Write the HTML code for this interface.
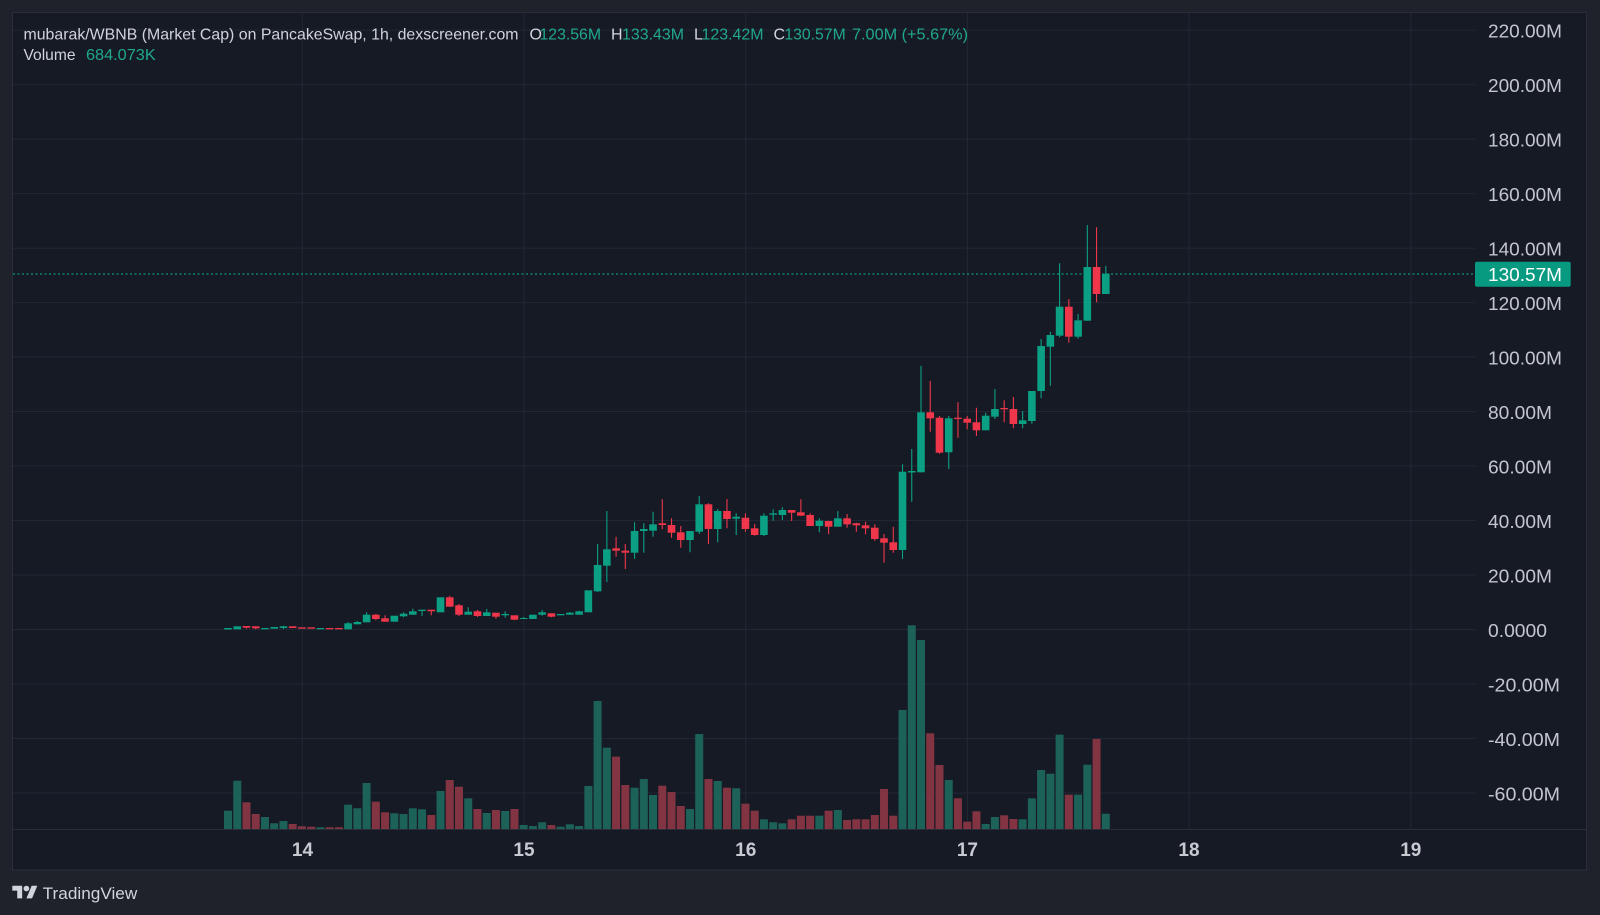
<!DOCTYPE html>
<html><head><meta charset="utf-8">
<style>
html,body{margin:0;padding:0;background:#1f222b;}
svg{display:block;}
text{font-family:"Liberation Sans",sans-serif;}
</style></head>
<body>
<svg width="1600" height="915" viewBox="0 0 1600 915" xmlns="http://www.w3.org/2000/svg">
<rect x="0" y="0" width="1600" height="915" fill="#1f222b"/>
<rect x="12.5" y="12.5" width="1574" height="857.5" fill="#161a24" stroke="#2a2e39" stroke-width="1"/>
<!-- grid -->
<g stroke="#232733" stroke-width="1">
<path d="M13 30.1H1475M13 84.6H1475M13 139.1H1475M13 193.6H1475M13 248.1H1475M13 302.6H1475M13 357.05H1475M13 411.55H1475M13 466.05H1475M13 520.5H1475M13 575H1475M13 629.5H1475M13 684H1475M13 738.5H1475M13 793H1475"/>
<path d="M302.3 13V829M524 13V829M745.7 13V829M967.4 13V829M1189 13V829M1410.8 13V829"/>
</g>
<line x1="12.5" y1="829.5" x2="1587" y2="829.5" stroke="#2a2e39" stroke-width="1"/>
<!-- price line -->
<line x1="13" y1="274" x2="1475" y2="274" stroke="#089981" stroke-width="1.3" stroke-dasharray="2,2.5"/>
<!-- volume green -->
<g fill="#1d6259">
<rect x="224" y="810.7" width="8" height="18.3"/><rect x="233.24" y="780.7" width="8" height="48.3"/><rect x="260.96" y="817" width="8" height="12"/><rect x="270.2" y="823.3" width="8" height="5.7"/><rect x="279.44" y="821" width="8" height="8"/><rect x="316.4" y="827.3" width="8" height="1.7"/><rect x="344.12" y="804.7" width="8" height="24.3"/><rect x="353.36" y="808.3" width="8" height="20.7"/><rect x="362.6" y="783" width="8" height="46"/><rect x="390.32" y="813.3" width="8" height="15.7"/><rect x="399.56" y="814" width="8" height="15"/><rect x="408.8" y="808.3" width="8" height="20.7"/><rect x="418.04" y="809.3" width="8" height="19.7"/><rect x="436.52" y="791" width="8" height="38"/><rect x="464.24" y="798.3" width="8" height="30.7"/><rect x="482.72" y="813" width="8" height="16"/><rect x="501.2" y="811" width="8" height="18"/><rect x="519.68" y="825" width="8" height="4"/><rect x="528.92" y="826" width="8" height="3"/><rect x="538.16" y="822.3" width="8" height="6.7"/><rect x="556.64" y="826.7" width="8" height="2.3"/><rect x="565.88" y="824.3" width="8" height="4.7"/><rect x="575.12" y="826" width="8" height="3"/><rect x="584.36" y="786" width="8" height="43"/><rect x="593.6" y="701" width="8" height="128"/><rect x="602.84" y="747.7" width="8" height="81.3"/><rect x="630.56" y="787.7" width="8" height="41.3"/><rect x="639.8" y="779" width="8" height="50"/><rect x="649.04" y="795" width="8" height="34"/><rect x="686" y="809" width="8" height="20"/><rect x="695.24" y="734" width="8" height="95"/><rect x="713.72" y="781" width="8" height="48"/><rect x="732.2" y="788.3" width="8" height="40.7"/><rect x="759.92" y="819.3" width="8" height="9.7"/><rect x="769.16" y="822.3" width="8" height="6.7"/><rect x="778.4" y="823.3" width="8" height="5.7"/><rect x="815.36" y="815.7" width="8" height="13.3"/><rect x="833.84" y="810" width="8" height="19"/><rect x="898.52" y="710" width="8" height="119"/><rect x="907.76" y="625.3" width="8" height="203.7"/><rect x="917" y="640" width="8" height="189"/><rect x="944.72" y="780" width="8" height="49"/><rect x="981.68" y="824" width="8" height="5"/><rect x="990.92" y="817" width="8" height="12"/><rect x="1018.64" y="819.3" width="8" height="9.7"/><rect x="1027.88" y="798.3" width="8" height="30.7"/><rect x="1037.12" y="770" width="8" height="59"/><rect x="1046.36" y="773.7" width="8" height="55.3"/><rect x="1055.6" y="734.7" width="8" height="94.3"/><rect x="1074.08" y="794.7" width="8" height="34.3"/><rect x="1083.32" y="764.7" width="8" height="64.3"/><rect x="1101.8" y="813.7" width="8" height="15.3"/>
</g>
<!-- volume red -->
<g fill="#833442">
<rect x="242.48" y="802.3" width="8" height="26.7"/><rect x="251.72" y="814" width="8" height="15"/><rect x="288.68" y="824" width="8" height="5"/><rect x="297.92" y="826.3" width="8" height="2.7"/><rect x="307.16" y="826.7" width="8" height="2.3"/><rect x="325.64" y="827.3" width="8" height="1.7"/><rect x="334.88" y="827.3" width="8" height="1.7"/><rect x="371.84" y="801.7" width="8" height="27.3"/><rect x="381.08" y="812.3" width="8" height="16.7"/><rect x="427.28" y="815" width="8" height="14"/><rect x="445.76" y="780" width="8" height="49"/><rect x="455" y="786.7" width="8" height="42.3"/><rect x="473.48" y="809" width="8" height="20"/><rect x="491.96" y="810" width="8" height="19"/><rect x="510.44" y="809" width="8" height="20"/><rect x="547.4" y="825" width="8" height="4"/><rect x="612.08" y="756.7" width="8" height="72.3"/><rect x="621.32" y="785" width="8" height="44"/><rect x="658.28" y="785.7" width="8" height="43.3"/><rect x="667.52" y="792" width="8" height="37"/><rect x="676.76" y="806" width="8" height="23"/><rect x="704.48" y="779" width="8" height="50"/><rect x="722.96" y="787.7" width="8" height="41.3"/><rect x="741.44" y="803.7" width="8" height="25.3"/><rect x="750.68" y="810.7" width="8" height="18.3"/><rect x="787.64" y="819.3" width="8" height="9.7"/><rect x="796.88" y="815.7" width="8" height="13.3"/><rect x="806.12" y="815.7" width="8" height="13.3"/><rect x="824.6" y="810.7" width="8" height="18.3"/><rect x="843.08" y="820" width="8" height="9"/><rect x="852.32" y="819.3" width="8" height="9.7"/><rect x="861.56" y="819.3" width="8" height="9.7"/><rect x="870.8" y="815" width="8" height="14"/><rect x="880.04" y="789" width="8" height="40"/><rect x="889.28" y="815.7" width="8" height="13.3"/><rect x="926.24" y="733.3" width="8" height="95.7"/><rect x="935.48" y="765" width="8" height="64"/><rect x="953.96" y="798.3" width="8" height="30.7"/><rect x="963.2" y="821.7" width="8" height="7.3"/><rect x="972.44" y="811.3" width="8" height="17.7"/><rect x="1000.16" y="815.3" width="8" height="13.7"/><rect x="1009.4" y="819" width="8" height="10"/><rect x="1064.84" y="794.7" width="8" height="34.3"/><rect x="1092.56" y="739" width="8" height="90"/>
</g>
<!-- green wicks -->
<path stroke="#0b9f84" stroke-width="1.1" fill="none" d="M283.44 625.7V629M348.12 622V629.3M357.36 621V624.3M366.6 612.3V622.3M403.56 612.3V617.3M412.8 608.7V614.7M422.04 609.7V616M468.24 607.3V614.7M486.72 609V616M505.2 611.3V617.7M523.68 617V619M542.16 610V615.7M569.88 612V614.7M579.12 610.7V614.7M597.6 544V592M606.84 511V582M634.56 522.3V559M643.8 523.3V552.7M653.04 511.7V536.7M690 531V552.3M699.24 496V534M717.72 509V542.3M736.2 513.3V535M763.92 513.3V536M773.16 509.3V520.7M782.4 507.3V520M819.36 518.3V532.3M837.84 511V526.7M902.52 464.3V559M911.76 449V501.7M921 365.7V472.3M948.72 416V469M985.68 412.7V430.3M994.92 389V419M1022.64 411V428.3M1031.88 391V423.7M1041.12 339V398.3M1050.36 331.7V385.7M1059.6 263.3V337.3M1078.08 314V338.7M1087.32 225V320.7M1105.8 266V294"/>
<!-- red wicks -->
<path stroke="#f0364a" stroke-width="1.1" fill="none" d="M246.48 626V628.7M255.72 626.3V629.3M375.84 614V620.3M385.08 615.3V621.7M431.28 609.7V615.3M449.76 595.7V606.7M459 604V616M477.48 610V617M495.96 612.7V618.7M514.44 615.3V620.3M551.4 613.3V617.3M616.08 536.7V556.7M625.32 544V569M662.28 499.3V529.3M671.52 518.3V537.7M680.76 526V547.7M708.48 503.3V544M726.96 499V528.3M745.44 513.3V531.7M754.68 524V535.7M791.64 510V521M800.88 499.3V515.7M810.12 513.3V526M828.6 521V534.3M847.08 514V527.7M856.32 522.7V531.7M865.56 521.7V534.3M874.8 524.3V541M884.04 534V562.7M893.28 526.7V552.7M930.24 381V431.7M939.48 416V453.7M957.96 402.3V437.7M967.2 416V429.3M976.44 407.7V436M1004.16 400.3V422.3M1013.4 397V428.3M1068.84 299V342.7M1096.56 227.3V302.3"/>
<!-- green bodies -->
<g fill="#0b9f84">
<rect x="224.2" y="628" width="7.6" height="1.5"/><rect x="233.44" y="626.3" width="7.6" height="3"/><rect x="261.16" y="628" width="7.6" height="1.3"/><rect x="270.4" y="627" width="7.6" height="1.7"/><rect x="279.64" y="626.3" width="7.6" height="1.7"/><rect x="316.6" y="628" width="7.6" height="1.3"/><rect x="344.32" y="623.3" width="7.6" height="6"/><rect x="353.56" y="622" width="7.6" height="2.3"/><rect x="362.8" y="614.7" width="7.6" height="7.6"/><rect x="390.52" y="615.7" width="7.6" height="6"/><rect x="399.76" y="613.7" width="7.6" height="2.6"/><rect x="409" y="611.3" width="7.6" height="3.4"/><rect x="418.24" y="609.7" width="7.6" height="1.3"/><rect x="436.72" y="597.3" width="7.6" height="15"/><rect x="464.44" y="611.7" width="7.6" height="3"/><rect x="482.92" y="612.3" width="7.6" height="3.7"/><rect x="501.4" y="614" width="7.6" height="1.3"/><rect x="519.88" y="618" width="7.6" height="1"/><rect x="529.12" y="614.7" width="7.6" height="4.3"/><rect x="538.36" y="612.3" width="7.6" height="2.4"/><rect x="556.84" y="614" width="7.6" height="1.3"/><rect x="566.08" y="612.7" width="7.6" height="2"/><rect x="575.32" y="611.3" width="7.6" height="3.4"/><rect x="584.56" y="590.3" width="7.6" height="22"/><rect x="593.8" y="565" width="7.6" height="26.3"/><rect x="603.04" y="549.3" width="7.6" height="16.4"/><rect x="630.76" y="531" width="7.6" height="21.7"/><rect x="640" y="529" width="7.6" height="2"/><rect x="649.24" y="524.3" width="7.6" height="6.4"/><rect x="686.2" y="531" width="7.6" height="9"/><rect x="695.44" y="504.3" width="7.6" height="27.4"/><rect x="713.92" y="511" width="7.6" height="18"/><rect x="732.4" y="516.7" width="7.6" height="2"/><rect x="760.12" y="515.7" width="7.6" height="19.3"/><rect x="769.36" y="513.3" width="7.6" height="1.4"/><rect x="778.6" y="510" width="7.6" height="5"/><rect x="815.56" y="520.7" width="7.6" height="5.3"/><rect x="834.04" y="518.3" width="7.6" height="8.4"/><rect x="898.72" y="471.7" width="7.6" height="78.3"/><rect x="907.96" y="471" width="7.6" height="1.5"/><rect x="917.2" y="412.3" width="7.6" height="60"/><rect x="944.92" y="418.3" width="7.6" height="34"/><rect x="981.88" y="415.7" width="7.6" height="14.6"/><rect x="991.12" y="409" width="7.6" height="7.7"/><rect x="1018.84" y="420.3" width="7.6" height="3.7"/><rect x="1028.08" y="391" width="7.6" height="30"/><rect x="1037.32" y="346" width="7.6" height="45"/><rect x="1046.56" y="335" width="7.6" height="11.7"/><rect x="1055.8" y="306.7" width="7.6" height="29"/><rect x="1074.28" y="320.3" width="7.6" height="16.4"/><rect x="1083.52" y="267" width="7.6" height="53.7"/><rect x="1102" y="273.7" width="7.6" height="20.3"/>
</g>
<!-- red bodies -->
<g fill="#f0364a">
<rect x="242.68" y="626" width="7.6" height="1.7"/><rect x="251.92" y="626.3" width="7.6" height="2"/><rect x="288.88" y="626.3" width="7.6" height="1.7"/><rect x="298.12" y="627.3" width="7.6" height="1.4"/><rect x="307.36" y="627.3" width="7.6" height="1.4"/><rect x="325.84" y="628" width="7.6" height="1.3"/><rect x="335.08" y="628" width="7.6" height="1.3"/><rect x="372.04" y="614.7" width="7.6" height="4.3"/><rect x="381.28" y="618.3" width="7.6" height="3.4"/><rect x="427.48" y="609.7" width="7.6" height="1.6"/><rect x="445.96" y="597.3" width="7.6" height="9.4"/><rect x="455.2" y="605.3" width="7.6" height="9.4"/><rect x="473.68" y="611.3" width="7.6" height="4.7"/><rect x="492.16" y="612.7" width="7.6" height="4"/><rect x="510.64" y="615.3" width="7.6" height="4.4"/><rect x="547.6" y="613.3" width="7.6" height="3.4"/><rect x="612.28" y="548.3" width="7.6" height="2.4"/><rect x="621.52" y="550.7" width="7.6" height="2"/><rect x="658.48" y="523.3" width="7.6" height="1.7"/><rect x="667.72" y="525" width="7.6" height="7.7"/><rect x="676.96" y="532.3" width="7.6" height="7.7"/><rect x="704.68" y="504.3" width="7.6" height="24.7"/><rect x="723.16" y="511" width="7.6" height="8"/><rect x="741.64" y="517.7" width="7.6" height="11.3"/><rect x="750.88" y="528.3" width="7.6" height="6.7"/><rect x="787.84" y="510" width="7.6" height="2.7"/><rect x="797.08" y="512.3" width="7.6" height="3.4"/><rect x="806.32" y="515" width="7.6" height="11"/><rect x="824.8" y="521" width="7.6" height="5.7"/><rect x="843.28" y="518.3" width="7.6" height="6"/><rect x="852.52" y="523.3" width="7.6" height="2"/><rect x="861.76" y="525.3" width="7.6" height="3"/><rect x="871" y="527.7" width="7.6" height="11.3"/><rect x="880.24" y="538.3" width="7.6" height="4.4"/><rect x="889.48" y="542.3" width="7.6" height="7.7"/><rect x="926.44" y="412.3" width="7.6" height="6"/><rect x="935.68" y="417.7" width="7.6" height="35"/><rect x="954.16" y="417.7" width="7.6" height="1.3"/><rect x="963.4" y="418.7" width="7.6" height="4"/><rect x="972.64" y="422.3" width="7.6" height="8"/><rect x="1000.36" y="408" width="7.6" height="1.3"/><rect x="1009.6" y="409" width="7.6" height="15"/><rect x="1065.04" y="306.7" width="7.6" height="30"/><rect x="1092.76" y="267" width="7.6" height="27"/>
</g>
<!-- price axis labels -->
<g fill="#c3c6ce" font-size="18" dominant-baseline="central">
<text x="1488" y="31.6" textLength="74" lengthAdjust="spacingAndGlyphs">220.00M</text>
<text x="1488" y="86.1" textLength="74" lengthAdjust="spacingAndGlyphs">200.00M</text>
<text x="1488" y="140.6" textLength="74" lengthAdjust="spacingAndGlyphs">180.00M</text>
<text x="1488" y="195.1" textLength="74" lengthAdjust="spacingAndGlyphs">160.00M</text>
<text x="1488" y="249.6" textLength="74" lengthAdjust="spacingAndGlyphs">140.00M</text>
<text x="1488" y="304.1" textLength="74" lengthAdjust="spacingAndGlyphs">120.00M</text>
<text x="1488" y="358.5" textLength="74" lengthAdjust="spacingAndGlyphs">100.00M</text>
<text x="1488" y="413" textLength="64" lengthAdjust="spacingAndGlyphs">80.00M</text>
<text x="1488" y="467.5" textLength="64" lengthAdjust="spacingAndGlyphs">60.00M</text>
<text x="1488" y="522" textLength="64" lengthAdjust="spacingAndGlyphs">40.00M</text>
<text x="1488" y="576.5" textLength="64" lengthAdjust="spacingAndGlyphs">20.00M</text>
<text x="1488" y="631" textLength="59" lengthAdjust="spacingAndGlyphs">0.0000</text>
<text x="1488" y="685.5" textLength="72" lengthAdjust="spacingAndGlyphs">-20.00M</text>
<text x="1488" y="740" textLength="72" lengthAdjust="spacingAndGlyphs">-40.00M</text>
<text x="1488" y="794.5" textLength="72" lengthAdjust="spacingAndGlyphs">-60.00M</text>
</g>
<!-- last price label -->
<rect x="1475" y="261.7" width="95.7" height="25" rx="2" fill="#089981"/>
<text x="1488" y="275" fill="#ffffff" font-size="18" dominant-baseline="central" textLength="74" lengthAdjust="spacingAndGlyphs">130.57M</text>
<!-- time axis -->
<g fill="#c8cad1" font-size="19" font-weight="bold" text-anchor="middle" dominant-baseline="central">
<text x="302.5" y="850.5">14</text>
<text x="524" y="850.5">15</text>
<text x="745.7" y="850.5">16</text>
<text x="967.4" y="850.5">17</text>
<text x="1189" y="850.5">18</text>
<text x="1410.8" y="850.5">19</text>
</g>
<!-- header -->
<g font-size="16">
<text x="23.5" y="39.3" fill="#d1d4dc" textLength="495" lengthAdjust="spacingAndGlyphs">mubarak/WBNB (Market Cap) on PancakeSwap, 1h, dexscreener.com</text>
<text x="529.5" y="39.3" fill="#d1d4dc">O</text>
<text x="539.5" y="39.3" fill="#20a88f" textLength="61.5" lengthAdjust="spacingAndGlyphs">123.56M</text>
<text x="611" y="39.3" fill="#d1d4dc">H</text>
<text x="622" y="39.3" fill="#20a88f" textLength="62" lengthAdjust="spacingAndGlyphs">133.43M</text>
<text x="694" y="39.3" fill="#d1d4dc">L</text>
<text x="701.5" y="39.3" fill="#20a88f" textLength="62" lengthAdjust="spacingAndGlyphs">123.42M</text>
<text x="773.5" y="39.3" fill="#d1d4dc">C</text>
<text x="784.4" y="39.3" fill="#20a88f" textLength="61.3" lengthAdjust="spacingAndGlyphs">130.57M</text>
<text x="852" y="39.3" fill="#20a88f" textLength="116" lengthAdjust="spacingAndGlyphs">7.00M (+5.67%)</text>
<text x="23.5" y="60" fill="#d1d4dc" textLength="52" lengthAdjust="spacingAndGlyphs">Volume</text>
<text x="86" y="60" fill="#20a88f" textLength="69.7" lengthAdjust="spacingAndGlyphs">684.073K</text>
</g>
<!-- TradingView logo -->
<g fill="#d1d4dc" transform="translate(12.3,882.9) scale(0.705)">
<path d="M14 22H7V11H0V4h14v18zM28 22h-8l7.5-18h8L28 22z"/>
<circle cx="20" cy="8" r="4"/>
</g>
<text x="42.7" y="899" fill="#d1d4dc" font-size="17" textLength="94.6" lengthAdjust="spacingAndGlyphs">TradingView</text>
</svg>
</body></html>
